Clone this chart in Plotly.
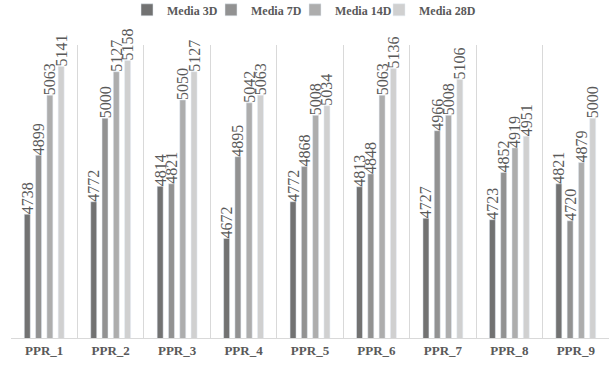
import plotly.graph_objects as go

categories = ["PPR_1", "PPR_2", "PPR_3", "PPR_4", "PPR_5", "PPR_6", "PPR_7", "PPR_8", "PPR_9"]
media_3d = [4738, 4772, 4814, 4672, 4772, 4813, 4727, 4723, 4821]
media_7d = [4899, 5000, 4821, 4895, 4868, 4848, 4966, 4852, 4720]
media_14d = [5063, 5127, 5050, 5042, 5008, 5063, 5008, 4919, 4879]
media_28d = [5141, 5158, 5127, 5063, 5034, 5136, 5106, 4951, 5000]

series = [
    ("Media 3D", media_3d, "#727272"),
    ("Media 7D", media_7d, "#929292"),
    ("Media 14D", media_14d, "#ADADAD"),
    ("Media 28D", media_28d, "#D0D0D0"),
]

fig = go.Figure()
for name, vals, col in series:
    fig.add_trace(go.Bar(
        x=categories, y=vals, name=name, marker_color=col,
        text=[str(v) for v in vals], textposition="outside", textangle=-90,
        constraintext="none", cliponaxis=False,
        textfont=dict(family="Liberation Serif", size=16, color="#595959"),
    ))

# invisible spacer entry so the last legend label is not clipped
fig.add_trace(go.Scatter(x=[None], y=[None], mode="markers", name=" ",
                         marker=dict(color="rgba(0,0,0,0)", size=1, opacity=0,
                                     line=dict(width=0)),
                         hoverinfo="skip"))

fig.update_layout(
    width=609, height=371,
    margin=dict(l=11, r=0, t=45, b=33, autoexpand=False),
    paper_bgcolor="white", plot_bgcolor="white",
    barmode="group", bargap=0.32, bargroupgap=0.47,
    showlegend=True,
    legend=dict(orientation="h", x=0.194, xanchor="left", y=1.12, yanchor="middle",
                itemwidth=30, entrywidth=39, tracegroupgap=0, bgcolor="rgba(0,0,0,0)",
                font=dict(family="Liberation Serif", size=12, color="#595959", weight="bold")),
    xaxis=dict(type="category", tickson="boundaries", showgrid=True, gridcolor="#D9D9D9",
               gridwidth=1, showline=True, linecolor="#D9D9D9", ticks="",
               range=[-0.5, 8.5], automargin=False,
               tickfont=dict(family="Liberation Serif", size=13, color="#595959", weight="bold")),
    yaxis=dict(range=[4400, 5200], visible=False, showgrid=False, zeroline=False,
               automargin=False),
)

fig.write_html("out.html", config={"displayModeBar": False},
               post_script="document.body.style.margin='0';document.body.style.overflow='hidden';")
